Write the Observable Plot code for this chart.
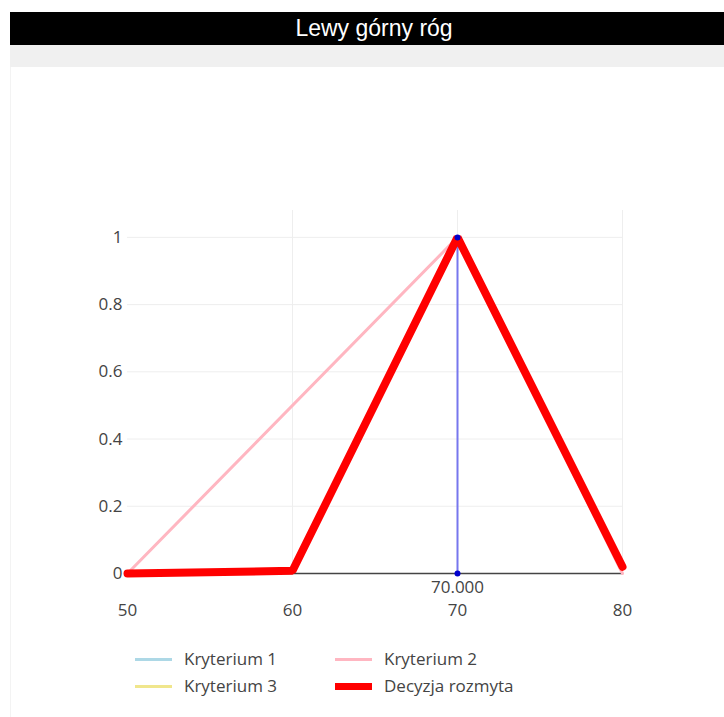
<!DOCTYPE html>
<html>
<head>
<meta charset="utf-8">
<script src="https://cdn.jsdelivr.net/npm/d3@7"></script>
<script src="https://cdn.jsdelivr.net/npm/@observablehq/plot@0.6"></script>
<style>
  html, body { margin: 0; padding: 0; background: #fff; }
  #page { position: relative; width: 724px; height: 717px; overflow: hidden; }
  #title { position: absolute; left: 10px; top: 12px; width: 700px; padding-left: 14px; height: 33px; background: #000; color: #fff;
           font-family: "Liberation Sans", Arial, sans-serif; font-size: 23px;
           line-height: 33px; text-align: center; }
  #band { position: absolute; left: 10px; top: 45px; width: 714px; height: 22px; background: #f0f0f0; }
  #frame { position: absolute; left: 10px; top: 67px; width: 714px; height: 650px; border-left: 1px solid #f3f3f3; }
  #chart { position: absolute; left: 0; top: 67px; }
  #legend { position: absolute; left: 0; top: 645px; font-family: "Open Sans", sans-serif; font-size: 17px; color: #444; }
  .item { position: absolute; white-space: nowrap; height: 20px; line-height: 20px; }
  .sw { position: absolute; top: 9px; width: 37px; }
  .lb { position: absolute; left: 49px; top: 0; }
</style>
</head>
<body>
<div id="page">
  <div id="title">Lewy górny róg</div>
  <div id="band"></div>
  <div id="frame"></div>
  <div id="chart"></div>
  <div id="legend"></div>
</div>
<script>
const xs = [50, 60, 70, 80];
const kryterium2 = [0, 0.5, 1, 0];
const decyzja = [0, 0.008, 1, 0.02];
const seriesNames = ["Kryterium 1", "Kryterium 2", "Kryterium 3", "Decyzja rozmyta"];
const seriesColors = ["#add8e6", "#ffb6c1", "#f0e68c", "#ff0000"];
const decisionX = 70;
const decisionY = [0, 1];
const decisionLabel = "70.000";
const yTicks = [0, 0.2, 0.4, 0.6, 0.8, 1];
const xTicks = [50, 60, 70, 80];

const k2 = [{x: 50, y: 0}, {x: 70, y: 1}, {x: 80, y: 0}];
const red = xs.map((x, i) => ({x, y: decyzja[i]}));
const pts = decisionY.map(y => ({x: decisionX, y}));

const plot = Plot.plot({
  width: 724,
  height: 573,
  marginLeft: 127,
  marginRight: 102,
  marginTop: 143,
  marginBottom: 67,
  style: {fontFamily: "'Open Sans', sans-serif", fontSize: "17px", color: "#444", background: "transparent"},
  x: {domain: [50, 80], ticks: xTicks, tickSize: 0, tickPadding: 30, tickFormat: d => String(d), label: null},
  y: {domain: [0, 1.08], ticks: yTicks, tickSize: 0, tickPadding: 5, tickFormat: d => String(d), label: null},
  marks: [
    Plot.gridX(xTicks.slice(1), {stroke: "#eee", strokeOpacity: 1, y1: 0, y2: 1.08}),
    Plot.gridY(yTicks.slice(1), {stroke: "#eee", strokeOpacity: 1}),
    Plot.ruleY([0], {stroke: "#444", strokeWidth: 1.5}),
    Plot.line(k2, {x: "x", y: "y", stroke: seriesColors[1], strokeWidth: 3}),
    Plot.ruleX([decisionX], {y1: 0, y2: 1, stroke: "#7777ee", strokeWidth: 2}),
    Plot.line(red, {x: "x", y: "y", stroke: seriesColors[3], strokeWidth: 8, strokeLinejoin: "miter"}),
    Plot.dot(pts, {x: "x", y: "y", r: 3, fill: "#0000cc", stroke: "none"}),
    Plot.text([decisionX], {x: d => d, y: 0, text: () => decisionLabel, dy: 14, fill: "#444", fontSize: 17}),
    Plot.axisX({ticks: xTicks, tickSize: 0, tickPadding: 30, tickFormat: d => String(d), fill: "#444", fontSize: 17}),
    Plot.axisY({ticks: yTicks, tickSize: 0, tickPadding: 5, tickFormat: d => String(d), fill: "#444", fontSize: 17})
  ]
});
document.getElementById("chart").appendChild(plot);

const legend = document.getElementById("legend");
const pos = [[135, 4], [335, 4], [135, 31], [335, 31]];
seriesNames.forEach((name, i) => {
  const it = document.createElement("div");
  it.className = "item";
  it.style.left = pos[i][0] + "px";
  it.style.top = pos[i][1] + "px";
  const sw = document.createElement("div");
  sw.className = "sw";
  const h = i === 3 ? 7 : 3;
  sw.style.height = h + "px";
  sw.style.top = (10 - h / 2) + "px";
  sw.style.background = seriesColors[i];
  const lb = document.createElement("span");
  lb.className = "lb";
  lb.textContent = name;
  it.appendChild(sw); it.appendChild(lb);
  legend.appendChild(it);
});
</script>
</body>
</html>
